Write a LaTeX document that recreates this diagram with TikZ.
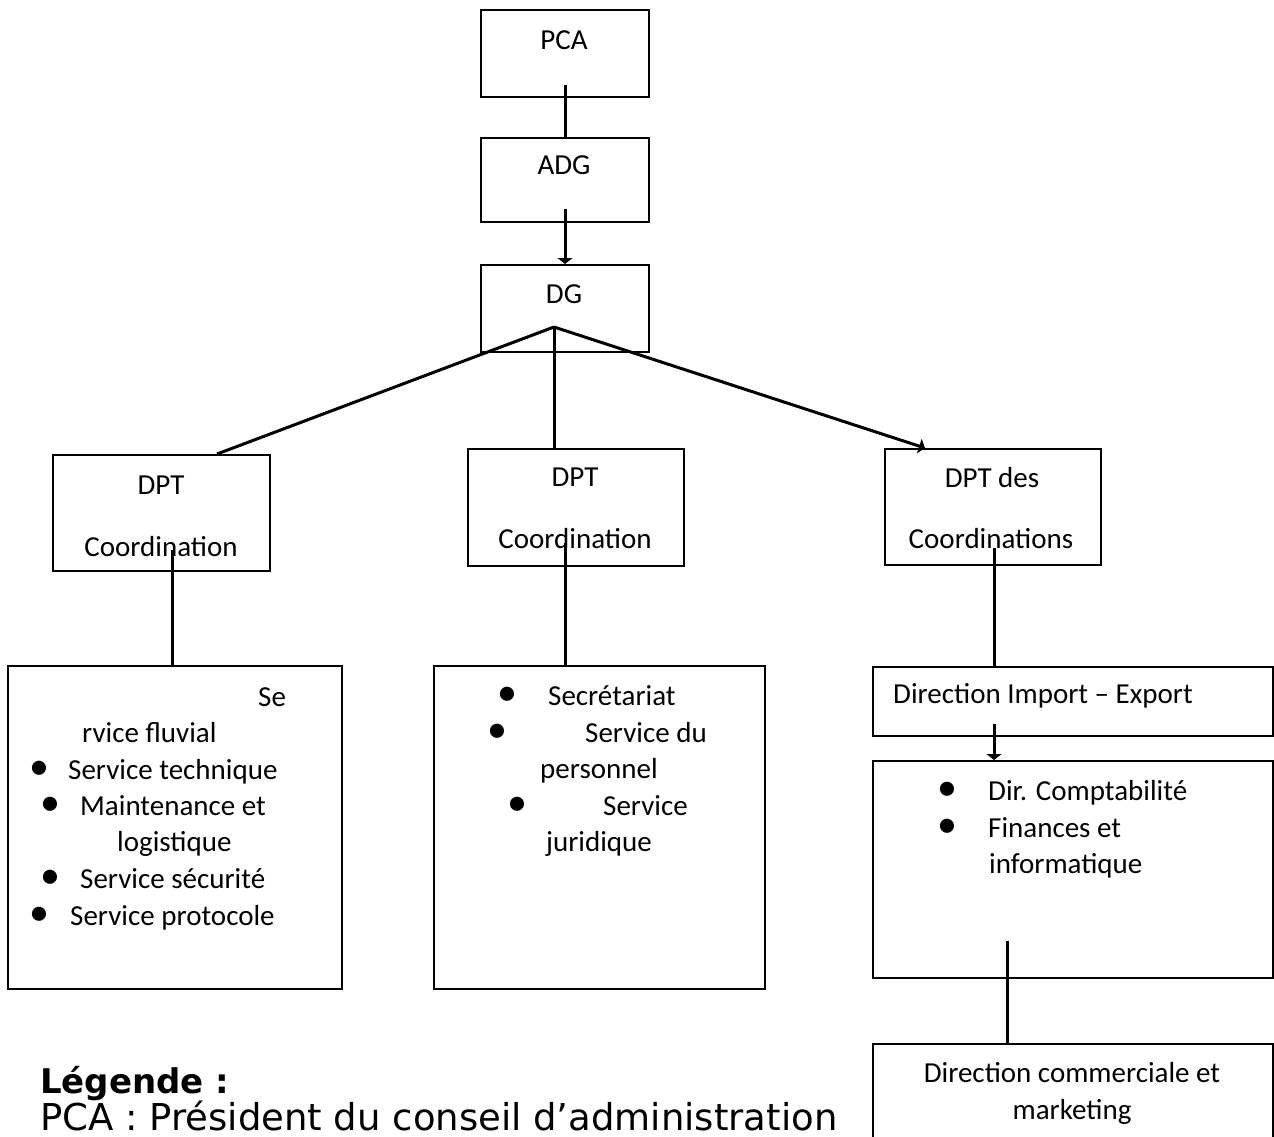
\documentclass[tikz,border=0pt]{standalone}
\usepackage{fontspec}
\setmainfont{Carlito}
\newfontfamily\legendfont{DejaVu Sans}
\usetikzlibrary{positioning,arrows.meta}

\begin{document}
\begin{tikzpicture}[x=1pt,y=-1pt,
    box/.style={draw=black, line width=2pt, rectangle, anchor=north west, inner sep=0pt},
    lbl/.style={font=\fontsize{29}{35}\selectfont, inner sep=0pt, anchor=base},
    lblw/.style={lbl, anchor=base west},
    bul/.style={font=\fontsize{40}{40}\selectfont, inner sep=0pt, anchor=center},
    link/.style={line width=3pt},
    tip/.style={arrows={-{Triangle[width=15pt,length=6pt]}}}]

    \useasboundingbox (0,0) rectangle (1274,1137);

    % boxes
    \node[box, minimum width=168pt, minimum height=87pt]  (pca)     at (480,9)    {};
    \node[box, minimum width=168pt, minimum height=84pt]  (adg)     at (480,137)  {};
    \node[box, minimum width=168pt, minimum height=87pt]  (dg)      at (480,264)  {};
    \node[box, minimum width=217pt, minimum height=116pt] (dptl)    at (52,454)   {};
    \node[box, minimum width=216pt, minimum height=117pt] (dptm)    at (467,448)  {};
    \node[box, minimum width=216pt, minimum height=116pt] (dptr)    at (884,448)  {};
    \node[box, minimum width=334pt, minimum height=323pt] (srvl)    at (7,665)    {};
    \node[box, minimum width=331pt, minimum height=323pt] (srvm)    at (433,665)  {};
    \node[box, minimum width=400pt, minimum height=69pt]  (impex)   at (872,666)  {};
    \node[box, minimum width=400pt, minimum height=217pt] (compta)  at (872,760)  {};
    \node[box, minimum width=400pt, minimum height=120pt] (commerc) at (872,1043) {};

    % texts
    \node[lbl] (pcat) at (564,50)  {PCA};
    \node[lbl] (adgt) at (564,174) {ADG};
    \node[lbl] (dgt)  at (564,303) {DG};

    \node[lbl] (dptla) at (161,494) {DPT};
    \node[lbl] (dptlb) at (161,556) {Coordination};
    \node[lbl] (dptma) at (575,486) {DPT};
    \node[lbl] (dptmb) at (575,548) {Coordination};
    \node[lbl] (dptra) at (992,487) {DPT des};
    \node[lbl] (dptrb) at (991,548) {Coordinations};

    \node[lblw] (srvla) at (258,706) {Se};
    \node[lblw] (srvlb) at (82,742)  {rvice fluvial};
    \node[bul]  (bula)  at (39,770)  {\textbullet};
    \node[lblw] (srvlc) at (68,779)  {Service technique};
    \node[bul]  (bulb)  at (50,806)  {\textbullet};
    \node[lblw] (srvld) at (80,815)  {Maintenance et};
    \node[lblw] (srvle) at (117,851) {logistique};
    \node[bul]  (bulc)  at (50,879)  {\textbullet};
    \node[lblw] (srvlf) at (80,888)  {Service sécurité};
    \node[bul]  (buld)  at (39,916)  {\textbullet};
    \node[lblw] (srvlg) at (70,925)  {Service protocole};

    \node[bul]  (bume)  at (507,696) {\textbullet};
    \node[lblw] (srvma) at (548,705) {Secrétariat};
    \node[bul]  (bumf)  at (497,733) {\textbullet};
    \node[lblw] (srvmb) at (585,742) {Service du};
    \node[lblw] (srvmc) at (540,778) {personnel};
    \node[bul]  (bumg)  at (517,806) {\textbullet};
    \node[lblw] (srvmd) at (603,815) {Service};
    \node[lblw] (srvme) at (546,851) {juridique};

    \node[lblw] (impext) at (893,703) {Direction Import – Export};
    \node[bul]  (buch)   at (947,791) {\textbullet};
    \node[lblw] (comptaa) at (988,800) {Dir. Comptabilité};
    \node[bul]  (buci)   at (947,828) {\textbullet};
    \node[lblw] (comptab) at (988,837) {Finances et};
    \node[lblw] (comptac) at (989,873) {informatique};

    \node[lbl] (commerca) at (1072,1082) {Direction commerciale et};
    \node[lbl] (commercb) at (1072,1119) {marketing};

    % legend
    \node[anchor=base west, inner sep=0pt, font=\legendfont\bfseries\fontsize{34}{40}\selectfont] (legtitle) at (40,1093) {Légende :};
    \node[anchor=base west, inner sep=0pt, font=\legendfont\fontsize{37}{42}\selectfont] (legpca) at (40,1130) {PCA : Président du conseil d’administration};

    % connectors
    \coordinate (pcaout)    at (565,85);
    \coordinate (adgout)    at (565,209);
    \coordinate (dgfork)    at (554,327);
    \coordinate (dptlin)    at (217,454);
    \coordinate (dptrin)    at (925,448);
    \coordinate (dptlout)   at (172,550);
    \coordinate (dptmout)   at (565,543);
    \coordinate (dptrout)   at (994,548);
    \coordinate (impexout)  at (994,724);
    \coordinate (comptaout) at (1007,941);

    \draw[link] (pcaout) -- (adg.north);
    \draw[link, tip] (adgout) -- (dg.north);
    \draw[link] (dgfork) -- (dptlin);
    \draw[link] (dgfork) -- (dgfork |- dptm.north);
    \draw[link, tip] (dgfork) -- (dptrin);
    \draw[link] (dptlout) -- (dptlout |- srvl.north);
    \draw[link] (dptmout) -- (dptmout |- srvm.north);
    \draw[link] (dptrout) -- (dptrout |- impex.north);
    \draw[link, tip] (impexout) -- (impexout |- compta.north);
    \draw[link] (comptaout) -- (comptaout |- commerc.north);

\end{tikzpicture}
\end{document}
